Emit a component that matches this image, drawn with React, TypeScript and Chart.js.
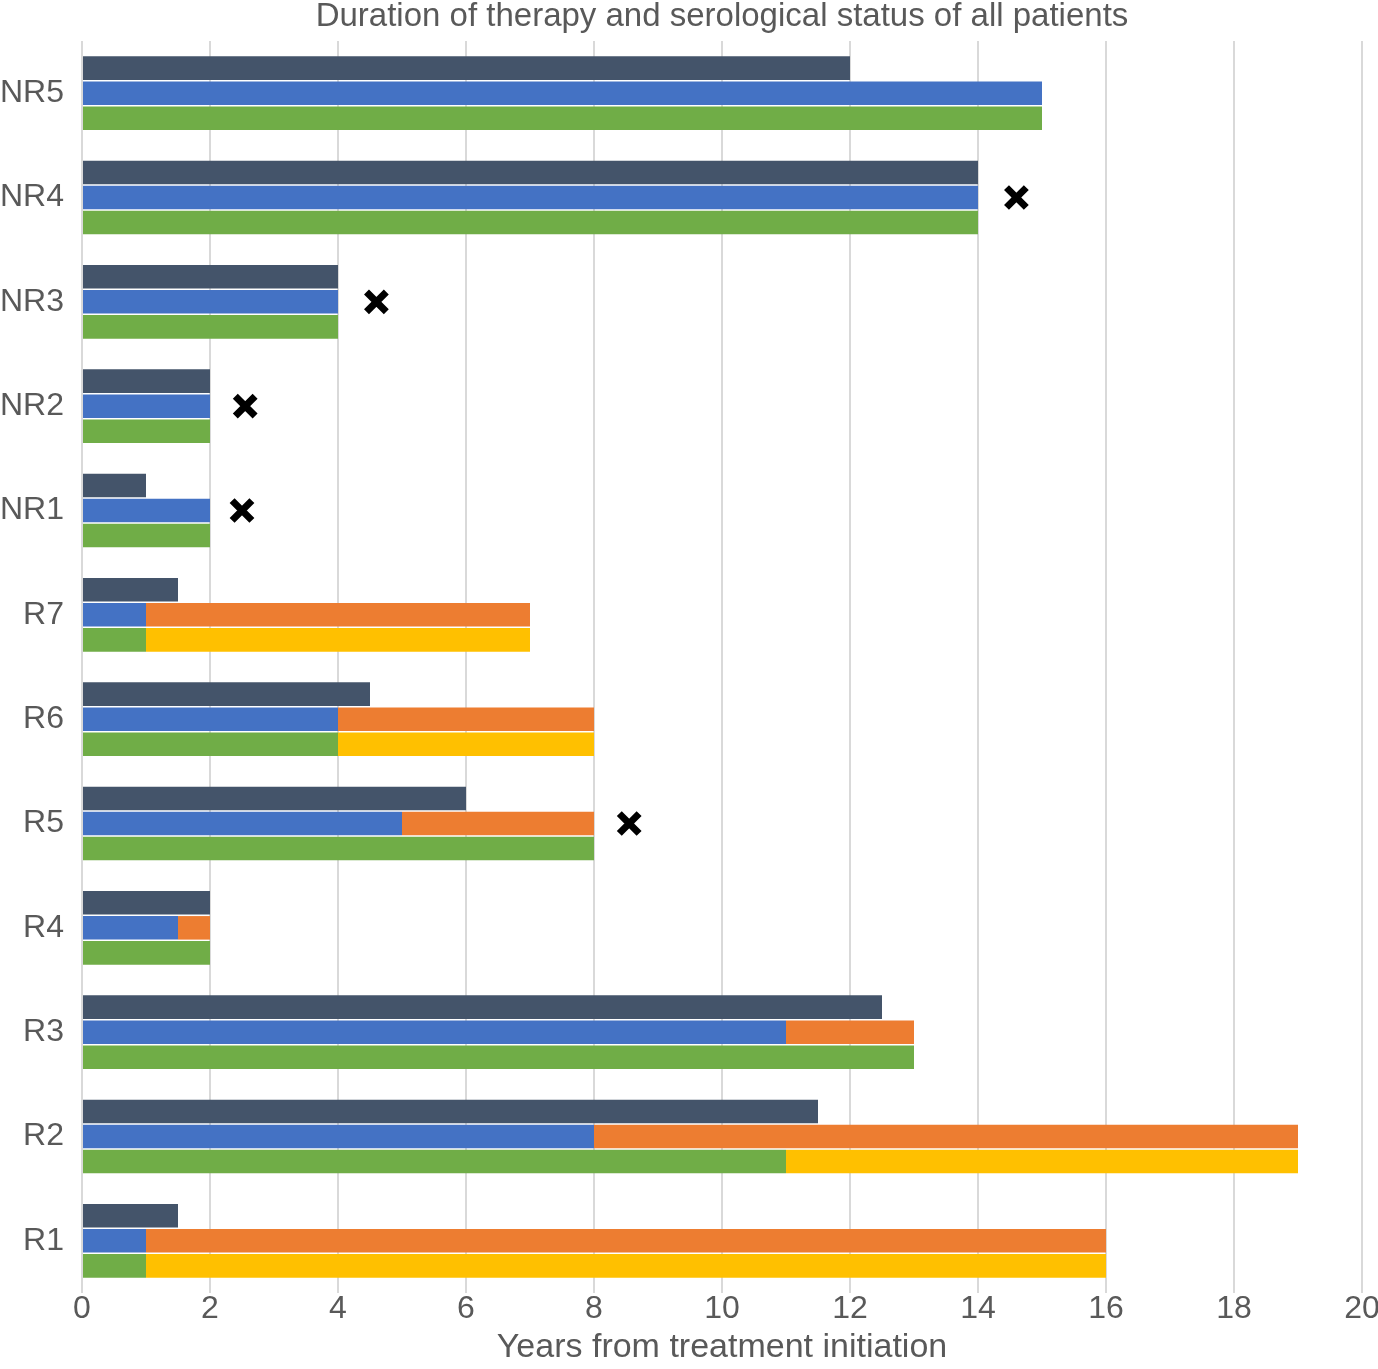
import React, { useEffect, useRef } from "react";
import { Chart, registerables } from "chart.js";

Chart.register(...registerables);

// Categories listed from top to bottom
const patients = ["NR5", "NR4", "NR3", "NR2", "NR1", "R7", "R6", "R5", "R4", "R3", "R2", "R1"];
// Top row (dark slate): duration of therapy, years
const therapyYears = [12, 14, 4, 2, 1, 1.5, 4.5, 6, 2, 12.5, 11.5, 1.5];
// Middle row: blue part, then orange part (length in years)
const blueYears = [15, 14, 4, 2, 2, 1, 4, 5, 1.5, 11, 8, 1];
const orangeYears = [null, null, null, null, null, 6, 4, 3, 0.5, 2, 11, 15];
// Bottom row: green part, then yellow part (length in years)
const greenYears = [15, 14, 4, 2, 2, 1, 4, 8, 2, 13, 11, 1];
const yellowYears = [null, null, null, null, null, 6, 4, null, null, null, 8, 15];
// Cross markers
const markerPatients = ["NR4", "NR3", "NR2", "NR1", "R5"];
const markerYears = [14.6, 4.6, 2.55, 2.5, 8.55];

const xMin = 0;
const xMax = 20;
const xStep = 2;

const FONT = "'Liberation Sans', Arial, Helvetica, sans-serif";
const TEXT = "#595959";

const CANVAS_W = 1383;
const CANVAS_H = 1369;

export default function App() {
  const ref = useRef<HTMLCanvasElement | null>(null);

  useEffect(() => {
    if (!ref.current) return;
    const chart = new Chart(ref.current, {
      type: "bar",
      data: {
        labels: patients,
        datasets: [
          {
            label: "Therapy",
            data: therapyYears,
            backgroundColor: "#44546a",
            stack: "a",
          },
          {
            label: "Blue",
            data: blueYears,
            backgroundColor: "#4472c4",
            stack: "b",
          },
          {
            label: "Orange",
            data: orangeYears,
            backgroundColor: "#ed7d31",
            stack: "b",
          },
          {
            label: "Green",
            data: greenYears,
            backgroundColor: "#70ad47",
            stack: "c",
          },
          {
            label: "Yellow",
            data: yellowYears,
            backgroundColor: "#ffc000",
            stack: "c",
          },
          {
            type: "scatter",
            label: "Marker",
            data: markerPatients.map((p, i) => ({ x: markerYears[i], y: p })),
            pointStyle: "crossRot",
            radius: 14,
            borderWidth: 7,
            borderColor: "#000000",
            backgroundColor: "#000000",
            showLine: false,
          } as any,
        ],
      },
      options: {
        indexAxis: "y",
        responsive: false,
        devicePixelRatio: 1,
        animation: false,
        categoryPercentage: 0.72,
        barPercentage: 0.94,
        layout: { padding: { left: 0, right: 0, top: 0, bottom: 0 } },
        plugins: {
          legend: { display: false },
          tooltip: { enabled: false },
          title: {
            display: true,
            fullSize: false,
            text: "Duration of therapy and serological status of all patients",
            color: TEXT,
            font: { family: FONT, size: 33, weight: "normal", lineHeight: 1 },
            padding: { top: 0, bottom: 8 },
          },
        },
        scales: {
          x: {
            type: "linear",
            position: "bottom",
            min: xMin,
            max: xMax,
            ticks: {
              stepSize: xStep,
              color: TEXT,
              font: { family: FONT, size: 32, lineHeight: 1 },
              padding: 0,
            },
            grid: { color: "#d9d9d9", lineWidth: 2, drawTicks: false },
            border: { display: false },
            title: {
              display: true,
              text: "Years from treatment initiation",
              color: TEXT,
              font: { family: FONT, size: 34, lineHeight: 1 },
              padding: { top: 6, bottom: 4 },
            },
          },
          y: {
            type: "category",
            grid: { display: false, drawTicks: false },
            border: { display: false },
            ticks: {
              color: TEXT,
              font: { family: FONT, size: 32 },
              padding: 18,
            },
            afterFit: (scale: any) => {
              scale.width = 82;
            },
          },
        },
      } as any,
    });
    return () => chart.destroy();
  }, []);

  return (
    <div
      style={{
        position: "fixed",
        left: 0,
        top: 0,
        width: CANVAS_W,
        height: CANVAS_H,
        background: "#ffffff",
      }}
    >
      <canvas ref={ref} width={CANVAS_W} height={CANVAS_H} />
    </div>
  );
}
